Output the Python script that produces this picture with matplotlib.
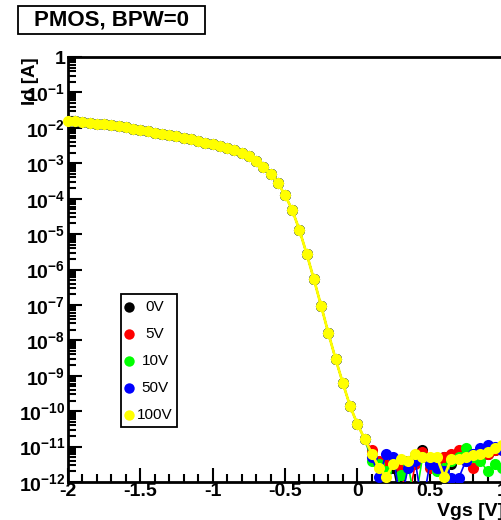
"""PMOS Id-Vgs curves for several back-bias values (BPW=0)."""

import matplotlib

matplotlib.use("Agg")
import matplotlib.pyplot as plt
from matplotlib.patches import Rectangle
from matplotlib.ticker import FixedLocator, FixedFormatter, LogLocator, NullFormatter
import numpy as np

plt.rcParams["font.family"] = ["Liberation Sans", "DejaVu Sans"]
plt.rcParams["font.weight"] = "bold"
plt.rcParams["mathtext.fontset"] = "custom"
plt.rcParams["mathtext.rm"] = "Liberation Sans:bold"
plt.rcParams["mathtext.it"] = "Liberation Sans:bold"
plt.rcParams["mathtext.bf"] = "Liberation Sans:bold"
plt.rcParams["axes.unicode_minus"] = False

# Vgs sweep [V]
vgs_on = [-2.0, -1.95, -1.9, -1.85, -1.8, -1.75, -1.7, -1.65, -1.6, -1.55,
          -1.5, -1.45, -1.4, -1.35, -1.3, -1.25, -1.2, -1.15, -1.1, -1.05,
          -1.0, -0.95, -0.9, -0.85, -0.8, -0.75, -0.7, -0.65, -0.6, -0.55,
          -0.5, -0.45, -0.4, -0.35, -0.3, -0.25, -0.2, -0.15, -0.1, -0.05,
          0.0, 0.05]
vgs_off = [0.1, 0.15, 0.2, 0.25, 0.3, 0.35, 0.4, 0.45, 0.5, 0.55,
           0.6, 0.65, 0.7, 0.75, 0.8, 0.85, 0.9, 0.95, 1.0, 1.05]

# log10(Id) in the conducting region (same for every back bias)
log_id_on = [-1.80, -1.82, -1.84, -1.86, -1.88, -1.90, -1.93, -1.96, -1.99, -2.03,
             -2.07, -2.10, -2.14, -2.18, -2.21, -2.24, -2.28, -2.32, -2.37, -2.42,
             -2.47, -2.52, -2.57, -2.63, -2.70, -2.80, -2.93, -3.10, -3.30, -3.55,
             -3.90, -4.32, -4.89, -5.56, -6.28, -7.03, -7.80, -8.53, -9.21, -9.86,
             -10.36, -10.78]

# log10(Id) in the leakage floor, one list per back bias
log_id_off_0v = [-11.2, -11.5, -11.7, -11.6, -12.6, -11.4, -11.25, -11.1, -11.4, -11.5,
                 -11.3, -11.5, -11.3, -11.2, -11.2, -11.3, -11.2, -11.1, -11.0, -10.9]
log_id_off_5v = [-11.1, -11.4, -11.5, -12.7, -11.6, -12.6, -11.5, -11.15, -11.6, -11.5,
                 -11.3, -11.2, -11.1, -11.4, -11.6, -11.3, -11.2, -11.1, -11.1, -11.0]
log_id_off_10v = [-11.4, -11.5, -11.7, -12.5, -11.8, -11.5, -12.6, -11.3, -11.5, -11.7,
                  -11.6, -11.4, -11.3, -11.05, -11.3, -11.4, -11.7, -11.5, -11.6, -11.1]
log_id_off_50v = [-11.3, -11.85, -11.2, -11.3, -12.6, -11.6, -11.4, -12.7, -11.5, -11.6,
                  -11.7, -11.9, -11.9, -11.4, -11.2, -11.05, -10.95, -11.0, -11.1, -11.0]
log_id_off_100v = [-11.2, -11.6, -11.85, -11.5, -11.35, -11.4, -11.2, -11.3, -11.3, -11.3,
                   -11.85, -11.35, -11.35, -11.3, -11.25, -11.2, -11.15, -11.05, -10.95, -10.9]

labels = ["0V", "5V", "10V", "50V", "100V"]
colors = ["#000000", "#ff0000", "#00ff00", "#0000ff", "#ffff00"]
floors = [log_id_off_0v, log_id_off_5v, log_id_off_10v, log_id_off_50v, log_id_off_100v]

x_ticks = [-2, -1.5, -1, -0.5, 0, 0.5, 1, 1.5, 2]
x_tick_labels = ["-2", "-1.5", "-1", "-0.5", "0", "0.5", "1", "1.5", "2"]
y_ticks = [10.0 ** e for e in range(-12, 1)]
y_tick_labels = [r"$10^{%d}$" % e for e in range(-12, 0)] + ["1"]

W, H = 502, 520
fig = plt.figure(figsize=(W / 100, H / 100), dpi=100)

# axes extend past the right edge of the picture (cropped plot)
px_per_volt = 434 / 3.0
ax = fig.add_axes([68 / W, 38 / H, 4 * px_per_volt / W, 425 / H])
ax.set_yscale("log")

for lab, col, floor in zip(labels, colors, floors):
    x = np.array(vgs_on + vgs_off)
    y = 10.0 ** np.array(log_id_on + floor)
    is_top = lab == labels[-1]
    ax.plot(x, y, color=col, lw=2.0 if is_top else 1.2, marker="o", ms=8,
            mec=col, mew=0, clip_on=not is_top, zorder=5 if is_top else 3)

ax.set_xlim(-2, 2)
ax.set_ylim(1e-12, 1)

ax.xaxis.set_major_locator(FixedLocator(x_ticks))
ax.xaxis.set_major_formatter(FixedFormatter(x_tick_labels))
ax.xaxis.set_minor_locator(FixedLocator(np.arange(-2, 2.01, 0.1)))
ax.yaxis.set_major_locator(FixedLocator(y_ticks))
ax.yaxis.set_major_formatter(FixedFormatter(y_tick_labels))
ax.yaxis.set_minor_locator(LogLocator(base=10, subs=np.arange(2, 10), numticks=30))
ax.yaxis.set_minor_formatter(NullFormatter())

ax.tick_params(which="both", direction="in", width=1.5, top=False, right=False,
               labelsize=14)
ax.tick_params(which="major", length=10)
ax.tick_params(which="minor", length=5.5)
ax.tick_params(axis="x", pad=1)
ax.tick_params(axis="y", pad=2)
for side in ["left", "bottom", "top"]:
    ax.spines[side].set_linewidth(2.0)
ax.spines["right"].set_visible(False)

fig.text(31 / W, 1 - 57 / H, "Id [A]", rotation=90, ha="center", va="top",
         fontsize=13.5, fontweight="bold")
fig.text(437 / W, 1 - 511 / H, "Vgs [V]", ha="left", va="center",
         fontsize=14, fontweight="bold")

# title box
fig.patches.append(Rectangle((18 / W, 1 - 34 / H), 187 / W, 28 / H,
                             transform=fig.transFigure, fc="white", ec="black", lw=1.3))
fig.text(111.5 / W, 1 - 20 / H, "PMOS, BPW=0", ha="center", va="center",
         fontsize=16, fontweight="bold")

# legend box
fig.patches.append(Rectangle((121 / W, 1 - 427 / H), 56 / W, 133 / H,
                             transform=fig.transFigure, fc="white", ec="black",
                             lw=1.3, zorder=10))
for i, (lab, col) in enumerate(zip(labels, colors)):
    yy = 1 - (307 + 27 * i) / H
    fig.lines.append(plt.Line2D([129 / W], [yy], transform=fig.transFigure,
                                marker="o", ms=7.5, mew=0, color=col, zorder=11))
    fig.text(155 / W, yy, lab, ha="center", va="center", fontsize=11,
             fontweight="normal", zorder=11)

fig.savefig("out.png", dpi=100)
